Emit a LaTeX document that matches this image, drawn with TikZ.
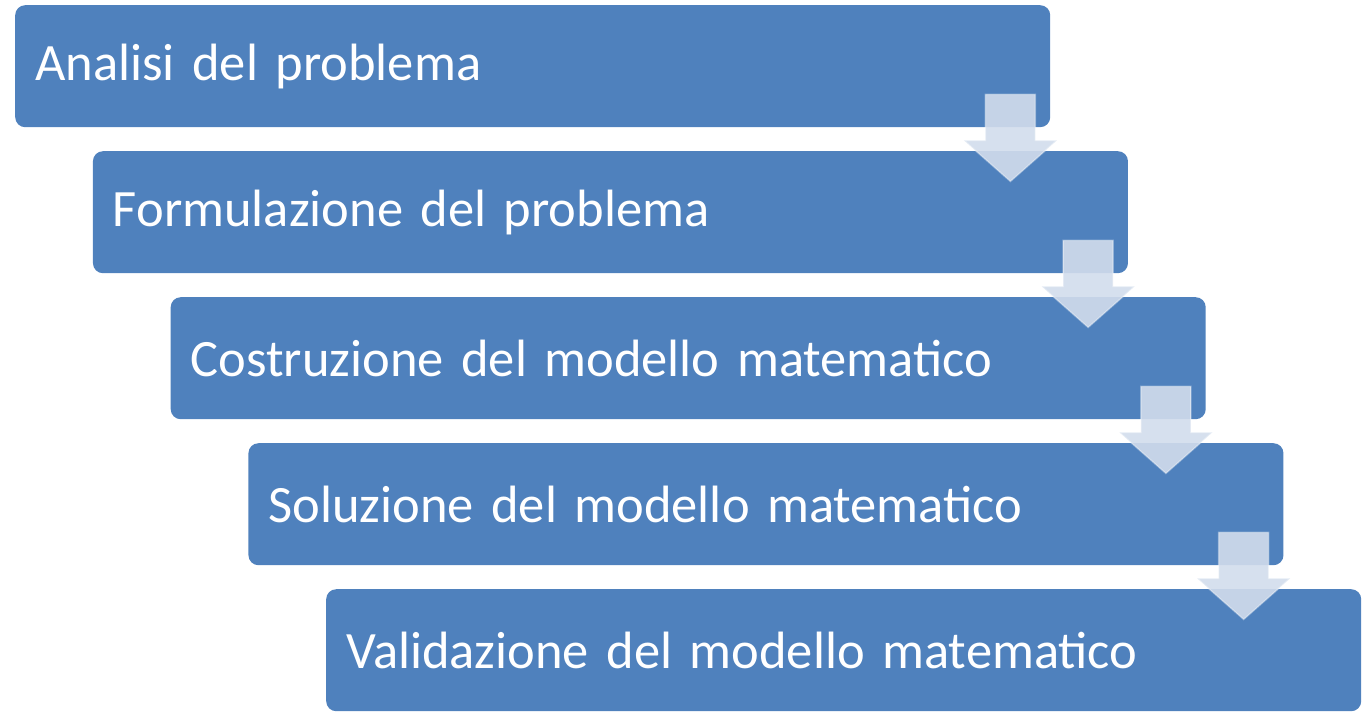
\documentclass[tikz,border=0pt]{standalone}
\usepackage{fontspec}
\setmainfont{Carlito}
\usetikzlibrary{calc}
\definecolor{boxblue}{RGB}{79,129,189}
\definecolor{flowgray}{RGB}{210,221,236}

\begin{document}
\begin{tikzpicture}[x=1pt, y=-1pt,
    stepbox/.style={fill=boxblue, rounded corners=10pt, anchor=north west,
        text width=995pt, inner xsep=20pt, inner ysep=0pt, minimum height=122pt,
        align=left, text=white, font=\fontsize{52.5}{60}\selectfont},
    flow/.style={fill=flowgray, fill opacity=0.9, draw=white, draw opacity=0.35, line width=1.5pt}]
    \useasboundingbox (0,0) rectangle (1365,716);
    % the five steps
    \foreach \i/\txt in {1/Analisi del problema, 2/Formulazione del problema,
        3/Costruzione del modello matematico, 4/Soluzione del modello matematico,
        5/Validazione del modello matematico} {
        \node[stepbox] (b\i) at ({15+77.75*(\i-1)},{5+146*(\i-1)}) {\txt};
    }
    % block arrows between the steps
    \foreach \i in {1,...,4} {
        \draw[flow] ($(b\i.south east)+(-65,-33)$) -- ++(50,0) -- ++(0,46) -- ++(21.5,0)
            -- ++(-46.5,41) -- ++(-46.5,-41) -- ++(21.5,0) -- cycle;
    }
\end{tikzpicture}
\end{document}
